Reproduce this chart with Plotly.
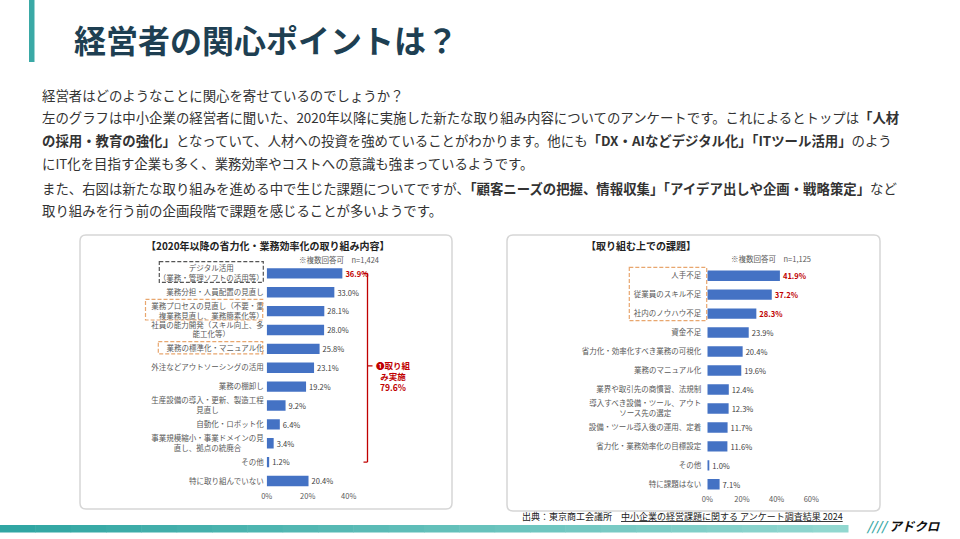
import plotly.graph_objects as go

W, H = 960, 539
FONT = "Noto Sans CJK JP"
BAR = "#4472C4"
RED = "#C00000"
ORANGE = "#E8A66E"


def px(x):
    return x / W


def py(y):
    return 1 - y / H


# ---------------- data ----------------
left_labels = [
    "デジタル活用<br>（業務・管理ソフトの活用等）",
    "業務分担・人員配置の見直し",
    "業務プロセスの見直し（不要・重<br>複業務見直し、業務簡素化等）",
    "社員の能力開発（スキル向上、多<br>能工化等）",
    "業務の標準化・マニュアル化",
    "外注などアウトソーシングの活用",
    "業務の棚卸し",
    "生産設備の導入・更新、製造工程<br>見直し",
    "自動化・ロボット化",
    "事業規模縮小・事業ドメインの見<br>直し、拠点の統廃合",
    "その他",
    "特に取り組んでいない",
]
left_values = [36.9, 33.0, 28.1, 28.0, 25.8, 23.1, 19.2, 9.2, 6.4, 3.4, 1.2, 20.4]
left_red = [True] + [False] * 11

right_labels = [
    "人手不足",
    "従業員のスキル不足",
    "社内のノウハウ不足",
    "資金不足",
    "省力化・効率化すべき業務の可視化",
    "業務のマニュアル化",
    "業界や取引先の商慣習、法規制",
    "導入すべき設備・ツール、アウト<br>ソース先の選定",
    "設備・ツール導入後の運用、定着",
    "省力化・業務効率化の目標設定",
    "その他",
    "特に課題はない",
]
right_values = [41.9, 37.2, 28.3, 23.9, 20.4, 19.6, 12.4, 12.3, 11.7, 11.6, 1.0, 7.1]
right_red = [True, True, True] + [False] * 9

left_ticks = [0, 20, 40]
right_ticks = [0, 20, 40, 60]


def centered(label):
    """Multi-line tick labels are centred in the source: pad shorter lines with ideographic spaces."""
    lines = label.split("<br>")
    if len(lines) == 1:
        return label
    n = max(len(l) for l in lines)
    return "<br>".join(l + "\u3000" * ((n - len(l)) // 2) for l in lines)


def labels(vals, reds):
    out = []
    for v, r in zip(vals, reds):
        t = f"{v:.1f}%"
        out.append(f"<b>{t}</b>" if r else t)
    return out


def colors(reds):
    return [RED if r else "#404040" for r in reds]


fig = go.Figure()

fig.add_trace(go.Bar(
    x=left_values, y=left_labels, orientation="h",
    marker=dict(color=BAR, line=dict(width=0)),
    text=labels(left_values, left_red), textposition="outside",
    textfont=dict(family=FONT, size=8, color=colors(left_red)),
    cliponaxis=False, xaxis="x", yaxis="y", hoverinfo="skip",
))
fig.add_trace(go.Bar(
    x=right_values, y=right_labels, orientation="h",
    marker=dict(color=BAR, line=dict(width=0)),
    text=labels(right_values, right_red), textposition="outside",
    textfont=dict(family=FONT, size=8, color=colors(right_red)),
    cliponaxis=False, xaxis="x2", yaxis="y2", hoverinfo="skip",
))

# axis geometry (pixels)
L0, LPP = 266.7, 2.05      # left zero, px per %
R0, RPP = 707.3, 1.733
LTOP, LBOT = 263.9, 490.4
RTOP, RBOT = 266.2, 493.8
XR = 70

axis_common = dict(showgrid=False, zeroline=False, showline=False, ticks="", automargin=False,
                   tickfont=dict(family=FONT, size=7.5, color="#595959"))

fig.update_layout(
    width=W, height=H,
    margin=dict(l=0, r=0, t=0, b=0, pad=0, autoexpand=False),
    paper_bgcolor="white", plot_bgcolor="rgba(0,0,0,0)",
    showlegend=False, bargap=0.45,
    font=dict(family=FONT),
    xaxis=dict(domain=[px(L0), px(L0 + XR * LPP)], range=[0, XR],
               tickvals=left_ticks, ticktext=[f"{t}%" for t in left_ticks],
               anchor="y", **axis_common),
    yaxis=dict(domain=[py(LBOT), py(LTOP)], type="category",
               range=[len(left_labels) - 0.5, -0.5], anchor="x",
               tickvals=left_labels, ticktext=[centered(l) for l in left_labels],
               ticklabelstandoff=2, **axis_common),
    xaxis2=dict(domain=[px(R0), px(R0 + XR * RPP)], range=[0, XR],
                tickvals=right_ticks, ticktext=[f"{t}%" for t in right_ticks],
                anchor="y2", **axis_common),
    yaxis2=dict(domain=[py(RBOT), py(RTOP)], type="category",
                range=[len(right_labels) - 0.5, -0.5], anchor="x2",
                tickvals=right_labels, ticktext=[centered(l) for l in right_labels],
                ticklabelstandoff=5, **axis_common),
)

shapes = []


def rrect(x0, y0, x1, y1, r):
    pts = [
        f"M {px(x0 + r)},{py(y0)}",
        f"L {px(x1 - r)},{py(y0)}",
        f"Q {px(x1)},{py(y0)} {px(x1)},{py(y0 + r)}",
        f"L {px(x1)},{py(y1 - r)}",
        f"Q {px(x1)},{py(y1)} {px(x1 - r)},{py(y1)}",
        f"L {px(x0 + r)},{py(y1)}",
        f"Q {px(x0)},{py(y1)} {px(x0)},{py(y1 - r)}",
        f"L {px(x0)},{py(y0 + r)}",
        f"Q {px(x0)},{py(y0)} {px(x0 + r)},{py(y0)} Z",
    ]
    return " ".join(pts)


# panels
for (x0, y0, x1, y1) in [(80, 235, 452, 509), (507, 235, 880, 511)]:
    shapes.append(dict(type="path", xref="paper", yref="paper", path=rrect(x0, y0, x1, y1, 6),
                       line=dict(color="#D6D6D6", width=1.5), fillcolor="white", layer="below"))

# title accent bar
shapes.append(dict(type="rect", xref="paper", yref="paper", x0=px(29), x1=px(34.5), y0=py(0), y1=py(62),
                   fillcolor="#3AA9A6", line=dict(width=0)))

# bottom gradient band
c0 = (48, 166, 163)
c1 = (146, 216, 208)
N = 24
xe = 848
for i in range(N):
    t = i / (N - 1)
    c = tuple(int(c0[k] + (c1[k] - c0[k]) * t) for k in range(3))
    shapes.append(dict(type="rect", xref="paper", yref="paper",
                       x0=px(xe * i / N), x1=px(xe * (i + 1) / N + 0.5),
                       y0=py(525), y1=py(532.5),
                       fillcolor=f"rgb{c}", line=dict(width=0), layer="below"))


# dashed label boxes
def dbox(x0, y0, x1, y1, color):
    shapes.append(dict(type="rect", xref="paper", yref="paper", x0=px(x0), x1=px(x1),
                       y0=py(y0), y1=py(y1), line=dict(color=color, width=1.2, dash="4px,2px"),
                       fillcolor="rgba(0,0,0,0)"))


dbox(159.3, 261.7, 263.3, 282.3, "#555555")
dbox(145.5, 299.3, 262.7, 320.0, ORANGE)
dbox(158.3, 341.7, 262.7, 353.8, ORANGE)
dbox(629.3, 267.3, 706.7, 320.7, ORANGE)

# red bracket (data coordinates of left chart)
bx = (367.5 - L0) / LPP
btick = (363.5 - L0) / LPP
bmid = (372.5 - L0) / LPP
for seg in [
    dict(x0=bx, x1=bx, y0=0, y1=10),
    dict(x0=btick, x1=bx, y0=0, y1=0),
    dict(x0=btick, x1=bx, y0=10, y1=10),
    dict(x0=bx, x1=bmid, y0=4.9, y1=4.9),
]:
    shapes.append(dict(type="line", xref="x", yref="y", line=dict(color=RED, width=1.3), **seg))

fig.update_layout(shapes=shapes)

ann = []


def text(x, y, s, size, color="#333333", xanchor="left", yanchor="middle", align="left"):
    ann.append(dict(x=px(x), y=py(y), xref="paper", yref="paper", text=s, showarrow=False,
                    xanchor=xanchor, yanchor=yanchor, align=align,
                    font=dict(family=FONT, size=size, color=color)))


# title
text(72, 39, "<b>経営者の関心ポイントは？</b>", 32, "#1E3F52")

# paragraph
PS = 13.4
para = [
    (95, "経営者はどのようなことに関心を寄せているのでしょうか？"),
    (117.3, "左のグラフは中小企業の経営者に聞いた、2020年以降に実施した新たな取り組み内容についてのアンケートです。これによるとトップは<b>「人材</b>"),
    (140, "<b>の採用・教育の強化」</b>となっていて、人材への投資を強めていることがわかります。他にも<b>「DX・AIなどデジタル化」「ITツール活用」</b>のよう"),
    (162.7, "にIT化を目指す企業も多く、業務効率やコストへの意識も強まっているようです。"),
    (187.8, "また、右図は新たな取り組みを進める中で生じた課題についてですが、<b>「顧客ニーズの把握、情報収集」「アイデア出しや企画・戦略策定」</b>など"),
    (210, "取り組みを行う前の企画段階で課題を感じることが多いようです。"),
]
for y, s in para:
    text(40, y, s, PS, "#333333")

# chart titles
text(267.5, 245, "<b>【2020年以降の省力化・業務効率化の取り組み内容】</b>", 10, "#222222", xanchor="center")
text(640.8, 246, "<b>【取り組む上での課題】</b>", 10, "#222222", xanchor="center")
text(296.7, 259.3, "※複数回答可　n=1,424", 7.5, "#595959")
text(729, 258.3, "※複数回答可　n=1,125", 7.5, "#595959")

# bracket label
text(393, 376, "<b>❶取り組<br>み実施<br>79.6%</b>", 8.5, RED, xanchor="center", align="center")

# footer
text(520, 516.5, "出典：東京商工会議所　<u>中小企業の経営課題に関する アンケート調査結果 2024</u>", 9, "#222222")
text(864, 525, "<b><i><span style='color:#3AA9A6'>////</span> アドクロ</i></b>", 12.5, "#111111")

fig.update_layout(annotations=ann)

fig.write_html("out.html", post_script="document.body.style.margin='0';document.body.style.overflow='hidden';")
